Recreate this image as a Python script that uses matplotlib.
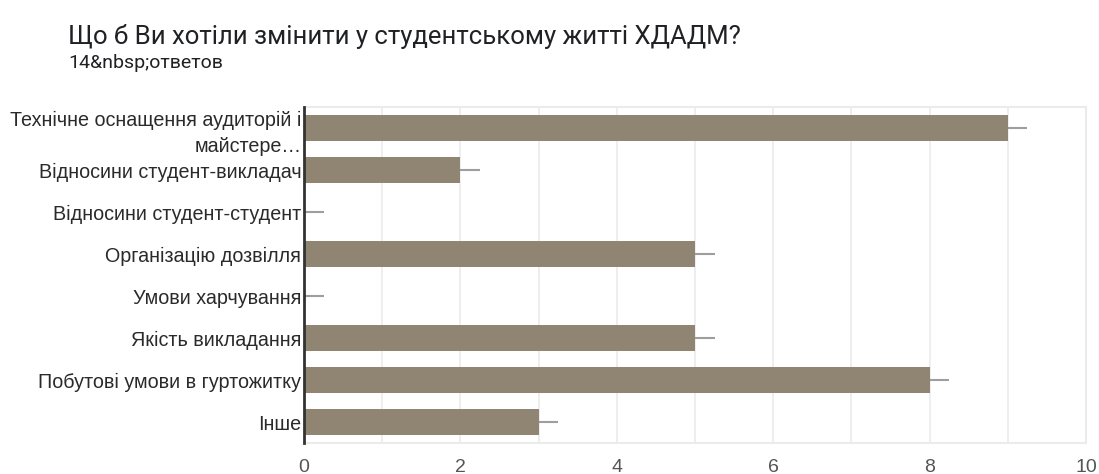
import matplotlib
matplotlib.use("Agg")
import matplotlib.pyplot as plt
import numpy as np

plt.rcParams['font.family'] = ['Liberation Sans', 'DejaVu Sans']

title = "Що б Ви хотіли змінити у студентському житті ХДАДМ?"
subtitle = "14&nbsp;ответов"
categories = [
    "Технічне оснащення аудиторій і\nмайстере…",
    "Відносини студент-викладач",
    "Відносини студент-студент",
    "Організацію дозвілля",
    "Умови харчування",
    "Якість викладання",
    "Побутові умови в гуртожитку",
    "Інше",
]
values = [9, 2, 0, 5, 0, 5, 8, 3]
xticks = [0, 2, 4, 6, 8, 10]

bar_color = "#908472"

fig = plt.figure(figsize=(10.99, 4.74), dpi=100)
ax = fig.add_axes([304/1099, 1-443/474, (1086-304)/1099, (443-107)/474])

y = np.arange(len(categories))
ax.barh(y, values, height=0.64, color=bar_color, zorder=3)
# whisker-like stubs at bar ends
ax.errorbar(values, y, xerr=[np.zeros(len(values)), np.full(len(values), 0.25)],
            fmt='none', ecolor='#9e9e9e', elinewidth=1.5, capsize=0, zorder=2)

ax.set_ylim(len(categories)-0.5, -0.5)
ax.set_xlim(0, 10)
ax.set_yticks(y)
ax.set_yticklabels(categories, fontsize=14.2, color='#2a2a2a', linespacing=1.45)
ax.set_xticks(xticks)
ax.set_xticklabels([str(t) for t in xticks], fontsize=14, color='#555555')
ax.set_xticks(np.arange(0, 11, 1), minor=True)
ax.tick_params(axis='both', which='both', length=0)
ax.tick_params(axis='x', pad=11.5)
ax.tick_params(axis='y', pad=2)
ax.grid(axis='x', which='both', color='#ebebeb', linewidth=1.2, zorder=0)
for s in ['top', 'right', 'bottom']:
    ax.spines[s].set_color('#ebebeb')
    ax.spines[s].set_linewidth(1.5)
ax.spines['left'].set_color('#333333')
ax.spines['left'].set_linewidth(2)
ax.spines['left'].set_zorder(4)

fig.text(68/1099, 1-44/474, title, fontsize=18.5, color='#202124', ha='left',
         va='baseline', family=['Roboto', 'DejaVu Sans'])
fig.text(68/1099, 1-68/474, subtitle, fontsize=14, color='#202124', ha='left',
         va='baseline', family=['Roboto', 'DejaVu Sans'])

fig.savefig("out.png", dpi=100, facecolor='white')
